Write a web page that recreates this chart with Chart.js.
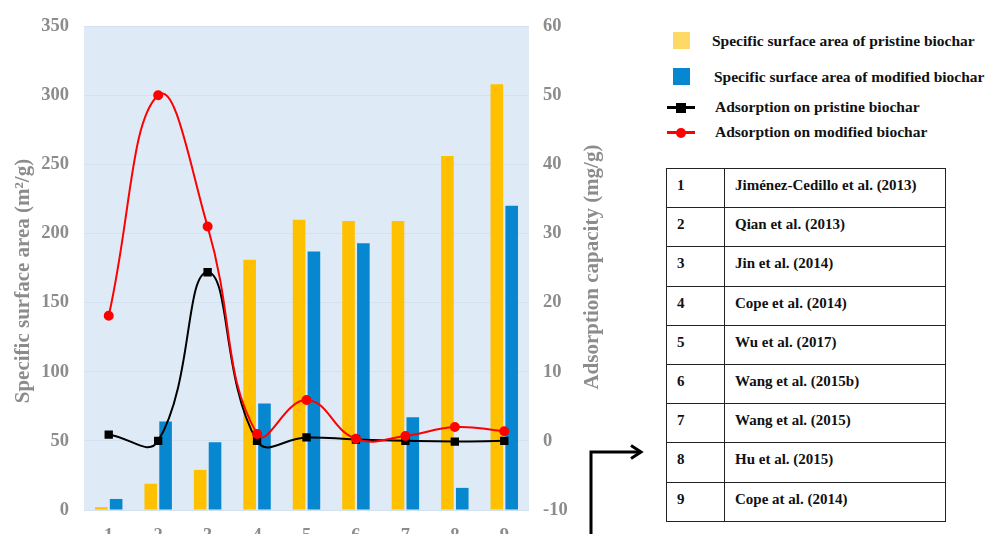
<!DOCTYPE html>
<html>
<head>
<meta charset="utf-8">
<script src="https://cdn.jsdelivr.net/npm/chart.js@4.4.1/dist/chart.umd.min.js"></script>
<style>
    html, body { margin: 0; padding: 0; background: #fff; overflow: hidden; }
    body { width: 995px; height: 534px; position: relative; font-family: "Liberation Serif", "Times New Roman", serif; }
    #chartBox { position: absolute; left: 0; top: 0; width: 610px; height: 560px; }
    #legend { position: absolute; left: 660px; top: 28px; font-weight: bold; font-size: 15.5px; color: #111; }
    .lg { position: absolute; white-space: nowrap; }
    .lg .sw { position: absolute; }
    #refTable { position: absolute; left: 666px; top: 168px; border-collapse: collapse; font-weight: bold; font-size: 15px; color: #111; }
    #refTable td { border: 1.5px solid #222; height: 39.2px; vertical-align: top; padding: 8px 0 0 0; box-sizing: border-box; }
    #refTable td.n { width: 58px; padding-left: 10px; }
    #refTable td.t { width: 221px; padding-left: 10px; }
    #arrow { position: absolute; left: 0; top: 0; }
</style>
</head>
<body>
<div id="chartBox"><canvas id="combinedChart"></canvas></div>
<div id="legend"></div>
<table id="refTable"></table>
<svg id="arrow" width="995" height="534">
    <polyline points="591,540 591,452 640,452" fill="none" stroke="#000" stroke-width="3"/>
    <polyline points="631,445.5 641,452 631,458.5" fill="none" stroke="#000" stroke-width="3"/>
</svg>
<script>
// values
var categories = ['1', '2', '3', '4', '5', '6', '7', '8', '9'];
var surfacePristine = [2, 19, 29, 181, 210, 209, 209, 256, 308];
var surfaceModified = [8, 64, 49, 77, 187, 193, 67, 16, 220];
var adsorptionPristine = [0.9, 0, 24.4, 0, 0.5, 0.2, 0, -0.1, 0];
var adsorptionModified = [18.1, 50, 31, 1.0, 5.9, 0.3, 0.7, 2.0, 1.4];
var studies = ['Jiménez-Cedillo et al. (2013)', 'Qian et al. (2013)', 'Jin et al. (2014)', 'Cope et al. (2014)',
    'Wu et al. (2017)', 'Wang et al. (2015b)', 'Wang et al. (2015)', 'Hu et al. (2015)', 'Cope at al. (2014)'];
var leftTicks = { min: 0, max: 350, step: 50 };
var rightTicks = { min: -10, max: 60, step: 10 };
var leftTitle = 'Specific surface area (m²/g)';
var rightTitle = 'Adsorption capacity (mg/g)';

var tickFont = { family: 'Liberation Serif', size: 18.5, weight: 'bold' };
var grey = '#8c8c8c';

// light blue plot background
var plotBg = {
    id: 'plotBg',
    beforeDraw: function (chart) {
        var a = chart.chartArea, c = chart.ctx;
        c.save();
        c.fillStyle = '#deebf7';
        c.fillRect(a.left, a.top, a.right - a.left, a.bottom - a.top);
        c.restore();
    }
};

// both axis titles read bottom-to-top, so draw them here
var axisTitles = {
    id: 'axisTitles',
    afterDraw: function (chart) {
        var c = chart.ctx, a = chart.chartArea;
        c.save();
        c.font = 'bold 21px "Liberation Serif"';
        c.fillStyle = grey;
        c.textAlign = 'center';
        c.textBaseline = 'middle';
        [[24, (a.top + a.bottom) / 2 + 13, leftTitle], [593, (a.top + a.bottom) / 2 - 1, rightTitle]].forEach(function (t) {
            c.save();
            c.translate(t[0], t[1]);
            c.rotate(-Math.PI / 2);
            c.fillText(t[2], 0, 0);
            c.restore();
        });
        c.restore();
    }
};

var ctx = document.getElementById('combinedChart').getContext('2d');
var chart = new Chart(ctx, {
    plugins: [plotBg, axisTitles],
    data: {
        labels: categories,
        datasets: [
            {
                type: 'line',
                label: 'Adsorption on modified biochar',
                data: adsorptionModified,
                borderColor: '#ff0000',
                backgroundColor: '#ff0000',
                borderWidth: 2,
                tension: 0.45,
                pointRadius: 4,
                pointStyle: 'circle',
                yAxisID: 'y1',
                order: 0
            },
            {
                type: 'line',
                label: 'Adsorption on pristine biochar',
                data: adsorptionPristine,
                borderColor: '#000000',
                backgroundColor: '#000000',
                borderWidth: 2,
                tension: 0.45,
                pointRadius: 4.5,
                pointStyle: 'rect',
                yAxisID: 'y1',
                order: 1
            },
            {
                type: 'bar',
                label: 'Specific surface area of pristine biochar',
                data: surfacePristine,
                backgroundColor: '#ffc000',
                barPercentage: 0.85,
                categoryPercentage: 0.6,
                yAxisID: 'y',
                order: 2
            },
            {
                type: 'bar',
                label: 'Specific surface area of modified biochar',
                data: surfaceModified,
                backgroundColor: '#0787d0',
                barPercentage: 0.85,
                categoryPercentage: 0.6,
                yAxisID: 'y',
                order: 3
            }
        ]
    },
    options: {
        responsive: true,
        maintainAspectRatio: false,
        animation: false,
        layout: { padding: { top: 22, left: 0, right: 0, bottom: 0 } },
        plugins: {
            legend: { display: false },
            tooltip: { enabled: false }
        },
        scales: {
            x: {
                grid: { display: false, drawTicks: false },
                border: { display: false },
                ticks: { color: grey, font: tickFont, padding: 15 },
                afterFit: function (s) { s.height = 50; }
            },
            y: {
                position: 'left',
                min: leftTicks.min,
                max: leftTicks.max,
                grid: { color: '#d2e2f0', drawTicks: false },
                border: { display: false },
                ticks: { stepSize: leftTicks.step, color: grey, font: tickFont, padding: 15 },
                afterFit: function (s) { s.width = 84; }
            },
            y1: {
                position: 'right',
                min: rightTicks.min,
                max: rightTicks.max,
                grid: { drawOnChartArea: false, drawTicks: false },
                border: { display: false },
                ticks: { stepSize: rightTicks.step, color: grey, font: tickFont, padding: 14 },
                afterFit: function (s) { s.width = 81; }
            }
        }
    }
});

// legend on the right, built from the datasets
var legendItems = [
    { ds: 2, top: 4, kind: 'box', textLeft: 52 },
    { ds: 3, top: 40, kind: 'box', textLeft: 54 },
    { ds: 1, top: 70, kind: 'line', textLeft: 55 },
    { ds: 0, top: 95, kind: 'line', textLeft: 55 }
];
var legend = document.getElementById('legend');
legendItems.forEach(function (it) {
    var d = chart.data.datasets[it.ds];
    var row = document.createElement('div');
    row.className = 'lg';
    row.style.top = it.top + 'px';
    row.style.left = '0px';
    var sw = document.createElement('div');
    sw.className = 'sw';
    if (it.kind === 'box') {
        sw.style.cssText = 'left:13px;top:0;width:17px;height:17px;background:' + (it.ds === 2 ? '#ffd966' : d.backgroundColor);
    } else {
        sw.style.cssText = 'left:7px;top:8px;width:28px;height:3px;background:' + d.borderColor;
        var mk = document.createElement('div');
        mk.style.cssText = 'position:absolute;left:9px;top:-3.5px;width:10px;height:10px;background:' + d.borderColor +
            (d.pointStyle === 'circle' ? ';border-radius:50%' : '');
        sw.appendChild(mk);
    }
    row.appendChild(sw);
    var tx = document.createElement('span');
    tx.textContent = d.label;
    tx.style.cssText = 'position:absolute;left:' + it.textLeft + 'px;top:' + (it.kind === 'box' ? 0 : 0) + 'px';
    row.appendChild(tx);
    legend.appendChild(row);
});

// reference table
var table = document.getElementById('refTable');
categories.forEach(function (c, i) {
    var tr = document.createElement('tr');
    tr.innerHTML = '<td class="n">' + c + '</td><td class="t">' + studies[i] + '</td>';
    table.appendChild(tr);
});
</script>
</body>
</html>
